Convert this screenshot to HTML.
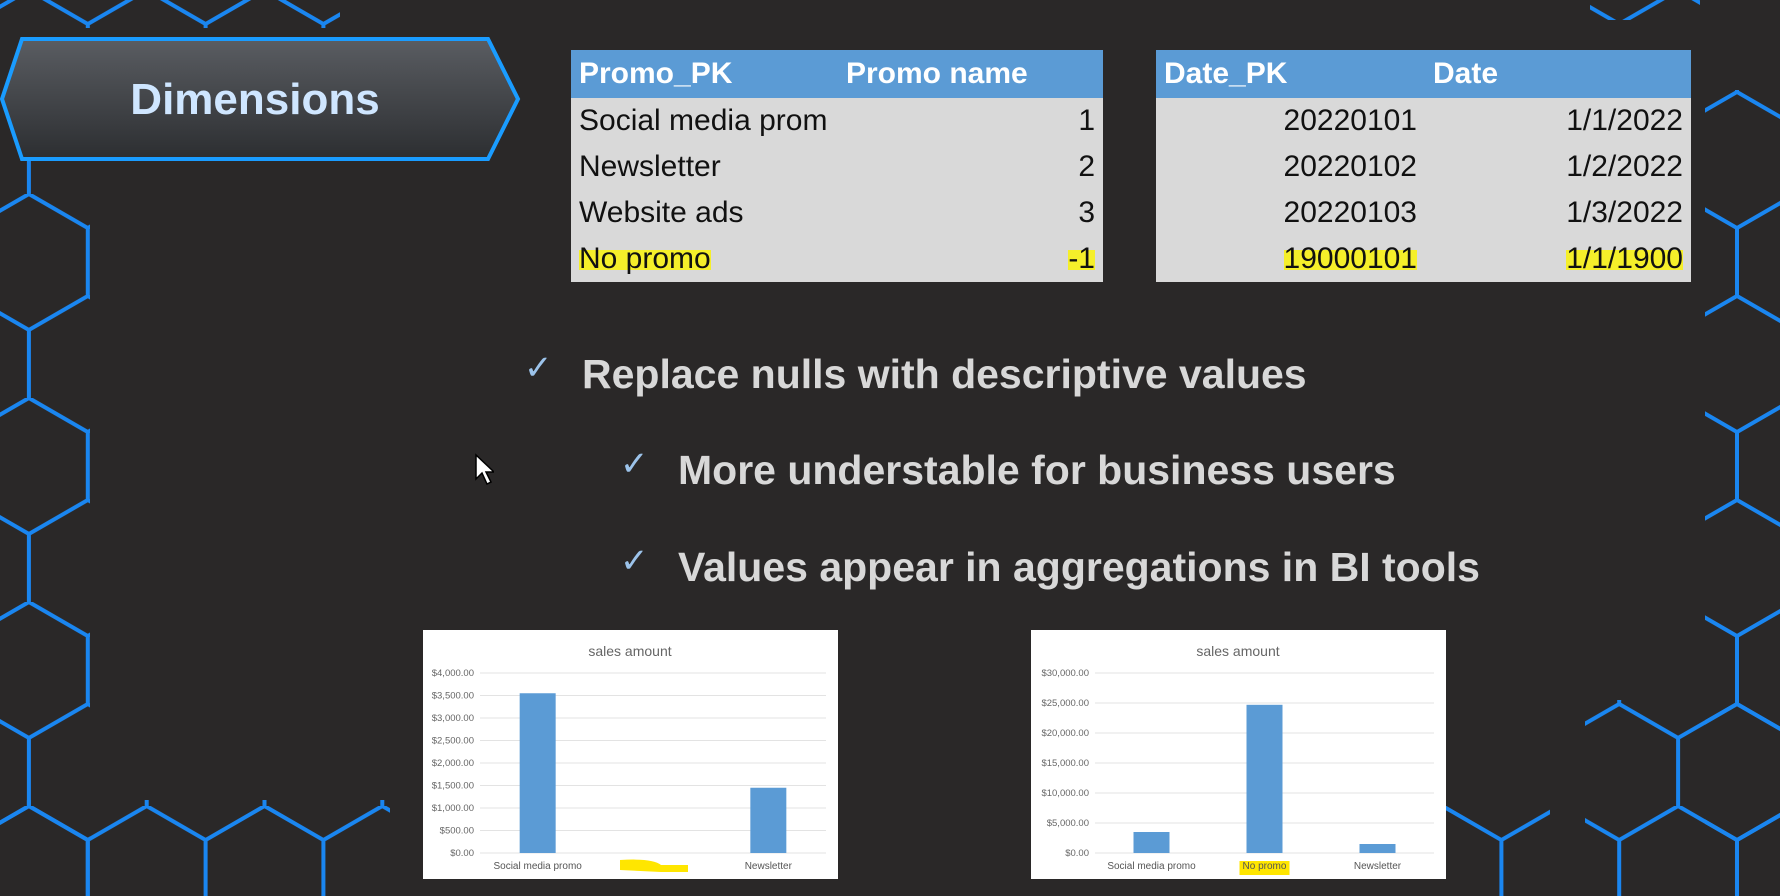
<!DOCTYPE html>
<html><head><meta charset="utf-8"><style>
body{margin:0;width:1780px;height:896px;background:#2a2828;overflow:hidden;font-family:"Liberation Sans",sans-serif;position:relative}
.abs{position:absolute}
table{border-collapse:collapse;position:absolute;font-size:30px;color:#111;table-layout:fixed}
td,th{padding:0 8px;height:46px;white-space:nowrap}
th{background:#5b9bd5;color:#fff;font-weight:bold;text-align:left;height:48px}
td{background:#d9d9d9}
.hl{background:linear-gradient(#0000 25%,#f5ef2a 25%,#f5ef2a 85%,#0000 85%)}
.b{position:absolute;color:#d8d8d8;font-weight:bold;font-size:41px;white-space:nowrap}
.ck{position:absolute;color:#9cc3ea;font-size:34px}
</style></head><body>
<svg class="abs" style="left:0;top:0" width="1780" height="896">
<defs><pattern id="hp" width="117.8" height="204" patternUnits="userSpaceOnUse" x="-30" y="-10">
<path d="M58.9 0L117.8 34V102L58.9 136L0 102V34Z M58.9 136V204" fill="none" stroke="#1a86f0" stroke-width="4"/></pattern></defs>
<g fill="url(#hp)">
<rect x="0" y="150" width="90" height="746"/>
<rect x="0" y="800" width="390" height="96"/>
<rect x="0" y="0" width="340" height="28"/>
<rect x="1705" y="90" width="75" height="806"/>
<rect x="1585" y="700" width="195" height="196"/>
<rect x="1440" y="800" width="110" height="96"/>
<rect x="1590" y="0" width="110" height="20"/>
</g></svg>
<svg class="abs" style="left:0;top:37px" width="522" height="126">
<defs><linearGradient id="bg" x1="0" y1="0" x2="0" y2="1"><stop offset="0" stop-color="#5a5d62"/><stop offset="1" stop-color="#2c2e31"/></linearGradient></defs>
<polygon points="22,2 488,2 518,62 488,122 22,122 2,62" fill="url(#bg)" stroke="#1a9cff" stroke-width="4"/>
<text x="255" y="77" text-anchor="middle" fill="#cfe6ff" font-size="44" font-weight="bold" font-family="Liberation Sans">Dimensions</text>
</svg>
<table style="left:571px;top:50px;width:532px">
<colgroup><col style="width:275px"><col style="width:257px"></colgroup>
<tr><th>Promo_PK</th><th style="padding-left:0">Promo name</th></tr>
<tr><td>Social media prom</td><td style="text-align:right">1</td></tr>
<tr><td>Newsletter</td><td style="text-align:right">2</td></tr>
<tr><td>Website ads</td><td style="text-align:right">3</td></tr>
<tr><td><span class="hl">No promo</span></td><td style="text-align:right"><span class="hl">-1</span></td></tr>
</table>
<table style="left:1156px;top:50px;width:535px">
<colgroup><col style="width:269px"><col style="width:266px"></colgroup>
<tr><th>Date_PK</th><th>Date</th></tr>
<tr><td style="text-align:right">20220101</td><td style="text-align:right">1/1/2022</td></tr>
<tr><td style="text-align:right">20220102</td><td style="text-align:right">1/2/2022</td></tr>
<tr><td style="text-align:right">20220103</td><td style="text-align:right">1/3/2022</td></tr>
<tr><td style="text-align:right"><span class="hl">19000101</span></td><td style="text-align:right"><span class="hl">1/1/1900</span></td></tr>
</table>
<span class="ck" style="left:524px;top:348px">✓</span>
<span class="b" style="left:582px;top:351px">Replace nulls with descriptive values</span>
<span class="ck" style="left:620px;top:444px">✓</span>
<span class="b" style="left:678px;top:447px">More understable for business users</span>
<span class="ck" style="left:620px;top:541px">✓</span>
<span class="b" style="left:678px;top:544px">Values appear in aggregations in BI tools</span>
<svg class="abs" style="left:474px;top:453px" width="20" height="34"><path d="M2 2V26L8 20L13 31L17 29L12 19H20Z" fill="#fff" stroke="#000" stroke-width="1.5"/></svg>
<div class="abs" id="c1" style="left:423px;top:630px;width:415px;height:249px;background:#fff"></div>
<div class="abs" id="c2" style="left:1031px;top:630px;width:415px;height:249px;background:#fff"></div>
<script>
const cats1=["Social media promo","","Newsletter"];
const vals1=[3550,0,1450];
const ticks1=[0,500,1000,1500,2000,2500,3000,3500,4000];
const cats2=["Social media promo","No promo","Newsletter"];
const vals2=[3500,24700,1500];
const ticks2=[0,5000,10000,15000,20000,25000,30000];
const NS="http://www.w3.org/2000/svg";
function mk(t,a,p){const e=document.createElementNS(NS,t);for(const k in a)e.setAttribute(k,a[k]);p.appendChild(e);return e;}
function fmt(v){return "$"+v.toLocaleString("en-US",{minimumFractionDigits:2});}
function draw(id,cats,vals,ticks,px0,hlIdx,hlBlob){
 const host=document.getElementById(id);
 const s=mk("svg",{width:415,height:249},host);
 
 
 const x0=px0,x1=403,yb=223,yt=43,max=ticks[ticks.length-1];
 const y=v=>yb-(v/max)*(yb-yt);
 const bw=(x1-x0)/cats.length;
 const t=mk("text",{x:207,y:26,"text-anchor":"middle","font-size":14,fill:"#666","font-family":"Liberation Sans"},s);t.textContent="sales amount";
 
 
 ticks.forEach(v=>{
  const l=mk("line",{x1:x0,x2:x1,y1:y(v),y2:y(v),stroke:"#e3e3e3"},s);
  
  
  const tx=mk("text",{x:x0-6,y:y(v)+3,"text-anchor":"end","font-size":9.5,fill:"#666","font-family":"Liberation Sans"},s);tx.textContent=fmt(v);
  
  
 });
 cats.forEach((c,i)=>{
  const cx=x0+bw*(i+0.5);
  if(i===hlIdx){
   const h=mk("path",{d:hlBlob?`M${cx-33} ${yb+7}Q${cx} ${yb+5} ${cx+8} ${yb+12}H${cx+35}V${yb+19}H${cx+8}L${cx-33} ${yb+17}Z`:`M${cx-25} ${yb+8}H${cx+25}V${yb+22}H${cx-25}Z`,fill:"#ffe600"},s);
   
   
  }
  const r=mk("rect",{x:cx-18,y:y(vals[i]),width:36,height:yb-y(vals[i]),fill:"#5b9bd5"},s);
  
  
  const lt=mk("text",{x:cx,y:yb+16,"text-anchor":"middle","font-size":10,fill:"#555","font-family":"Liberation Sans"},s);lt.textContent=c;
  
  
 });
}
draw("c1",cats1,vals1,ticks1,57,1,true);
draw("c2",cats2,vals2,ticks2,64,1,false);
</script>
</body></html>
